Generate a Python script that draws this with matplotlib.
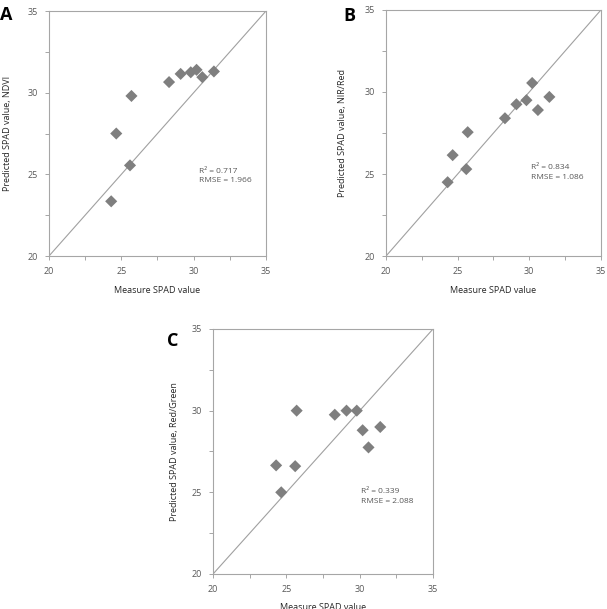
"""Measured vs predicted SPAD value for three vegetation indices (panels A, B, C)."""

import matplotlib
matplotlib.use("Agg")
import matplotlib.pyplot as plt
from matplotlib.ticker import MultipleLocator

plt.rcParams["font.family"] = ["Open Sans", "DejaVu Sans"]

measured = [24.3, 24.65, 25.6, 25.7, 28.3, 29.1, 29.8, 30.2, 30.6, 31.4]
pred_ndvi = [23.35, 27.5, 25.55, 29.8, 30.65, 31.15, 31.25, 31.4, 30.95, 31.3]
pred_nir_red = [24.5, 26.15, 25.3, 27.55, 28.4, 29.25, 29.5, 30.55, 28.9, 29.7]
pred_red_green = [26.65, 25.0, 26.6, 30.0, 29.75, 30.0, 30.0, 28.8, 27.75, 29.0]

panel_letters = ["A", "B", "C"]
y_labels = ["Predicted SPAD value, NDVI",
            "Predicted SPAD value, NIR/Red",
            "Predicted SPAD value, Red/Green"]
r2_values = ["0.717", "0.834", "0.339"]
rmse_values = ["1.966", "1.086", "2.088"]

# axes boxes in figure fraction [left, bottom, width, height]
boxes = [[0.0807, 0.5796, 0.3575, 0.4023],
         [0.636, 0.5796, 0.354, 0.404],
         [0.351, 0.0575, 0.3624, 0.4023]]
letter_pos = [(0.0, 0.975), (0.565, 0.973), (0.275, 0.44)]
ylabel_x = [-0.17, -0.181, -0.155]
xlabel_y = [-0.122, -0.122, -0.118]
text_pos = [(30.35, 24.9), (30.1, 25.1), (30.06, 24.75)]

GREY = "#7f7f7f"
SPINE = "#a6a6a6"

fig = plt.figure(figsize=(6.07, 6.09), dpi=100)

for i, preds in enumerate([pred_ndvi, pred_nir_red, pred_red_green]):
    ax = fig.add_axes(boxes[i])
    ax.plot([20, 35], [20, 35], color="#a0a0a0", lw=0.8, zorder=1)
    ax.scatter(measured, preds, marker="D", s=38, color=GREY,
               edgecolors="none", zorder=3)
    ax.set_xlim(20, 35)
    ax.set_ylim(20, 35)
    ax.xaxis.set_major_locator(MultipleLocator(5))
    ax.yaxis.set_major_locator(MultipleLocator(5))
    ax.xaxis.set_minor_locator(MultipleLocator(2.5))
    ax.yaxis.set_minor_locator(MultipleLocator(2.5))
    ax.tick_params(which="both", direction="out", length=3, width=0.7,
                   color=SPINE, labelsize=6.5, labelcolor="#595959", pad=5)
    for sp in ax.spines.values():
        sp.set_color(SPINE)
        sp.set_linewidth(0.8)

    ax.set_xlabel("Measure SPAD value", fontsize=6.5, color="#262626")
    ax.xaxis.set_label_coords(0.5, xlabel_y[i])
    ax.set_ylabel(y_labels[i], fontsize=6.5, color="#262626")
    ax.yaxis.set_label_coords(ylabel_x[i], 0.5)

    tx, ty = text_pos[i]
    ax.text(tx, ty, f"R\u00b2 = {r2_values[i]}\nRMSE = {rmse_values[i]}",
            fontsize=6, color="#595959", va="center", ha="left",
            linespacing=1.5)

    fig.text(letter_pos[i][0], letter_pos[i][1], panel_letters[i],
             fontsize=13, fontweight="bold", va="center", ha="left")

fig.savefig("out.png", dpi=100, facecolor="white")
